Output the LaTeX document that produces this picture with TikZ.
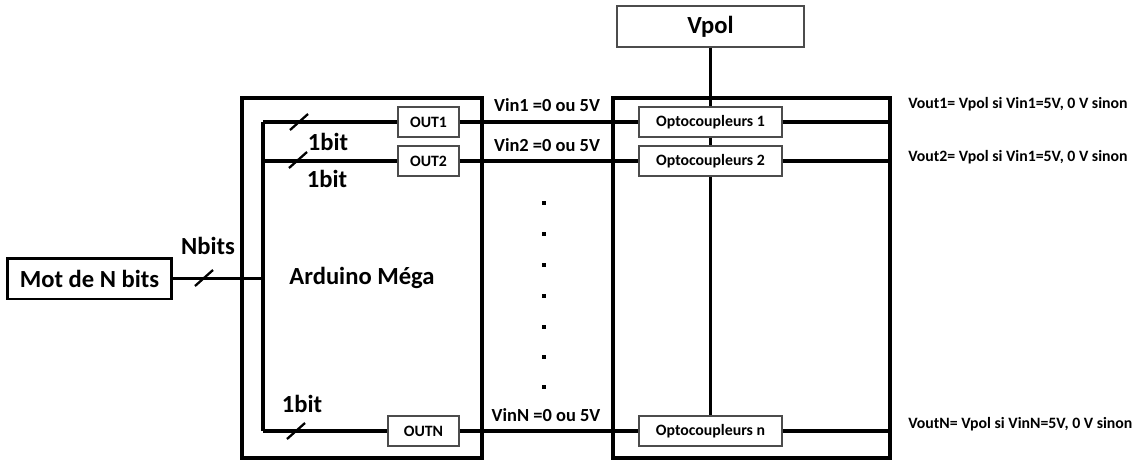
\documentclass[tikz,border=0pt]{standalone}
\usepackage{fontspec}
\setmainfont{Carlito}
\usetikzlibrary{positioning}

\begin{document}
\begin{tikzpicture}[x=0.02cm, y=-0.02cm, font=\bfseries,
  wire/.style={line width=2.2pt},
  bigbox/.style={draw, line width=1.7pt, inner sep=0pt, font=\fontsize{14}{16}\selectfont\bfseries},
  frame/.style={draw, line width=1.9pt, inner sep=0pt},
  small/.style={draw=gray!60!black, text=black, line width=0.7pt, fill=white, minimum height=0.6cm, inner sep=0pt, font=\fontsize{9}{10}\selectfont\bfseries},
  lab/.style={font=\fontsize{14}{16}\selectfont\bfseries, inner sep=0pt},
  vin/.style={font=\fontsize{10.5}{12}\selectfont\bfseries, inner sep=0pt},
  vout/.style={font=\fontsize{9}{10}\selectfont\bfseries, inner sep=0pt, anchor=west},
  slash/.style={line width=1.3pt},
  dot/.style={fill, inner sep=0pt, minimum size=0.07cm}]
\useasboundingbox (0,0) rectangle (1146,460);
\node[bigbox, minimum width=3.3cm, minimum height=0.82cm] (mot) at (89.5,278.5) {Mot de N bits};
\node[frame, minimum width=4.8cm, minimum height=7.2cm, font=\fontsize{14}{16}\selectfont\bfseries] (ard) at (362,278) {Arduino Méga};
\node[frame, minimum width=5.54cm, minimum height=7.2cm] (opt) at (751.5,278) {};
\node[bigbox, draw=gray!60!black, line width=0.8pt, minimum width=3.74cm, minimum height=0.82cm] (vpol) at (710.5,26.5) {Vpol};
\node[small, minimum width=1.22cm] (out1) at (428.5,122) {OUT1};
\node[small, minimum width=1.22cm] (out2) at (428.5,161) {OUT2};
\node[small, minimum width=1.42cm] (outn) at (423.5,431) {OUTN};
\foreach \i/\y in {1/122, 2/161, n/431}
  \node[small, minimum width=2.86cm] (opt\i) at (710.5,\y) {Optocoupleurs \i};
% bus inside the Arduino
\coordinate (bt) at (263,122);
\coordinate (bb) at (263,431);
\draw[wire] (mot.east) -- (mot.east -| bt);
\draw[wire] (bt) -- (bb);
\draw[wire] (bt) -- (out1); \draw[wire] (bt |- out2) -- (out2); \draw[wire] (bb) -- (outn);
\draw[wire] (out1) -- (opt1); \draw[wire] (out2) -- (opt2); \draw[wire] (outn) -- (optn);
\draw[wire] (opt1) -- (opt1 -| opt.east); \draw[wire] (opt2) -- (opt2 -| opt.east); \draw[wire] (optn) -- (optn -| opt.east);
\draw[wire] (vpol) -- (opt1); \draw[wire] (opt1) -- (opt2); \draw[wire] (opt2) -- (optn);
\foreach \x/\y in {204/278, 299/122, 298/160, 296/431}
  \draw[slash] (\x,\y) ++(-9,8) -- ++(18,-16);
\node[lab] (nbits) at (208,246) {Nbits};
\node[lab] (bit1) at (328,142) {1bit};
\node[lab] (bit2) at (327,179) {1bit};
\node[lab] (bitn) at (302,404) {1bit};
\node[vin] (vin1) at (547,105) {Vin1 =0 ou 5V};
\node[vin] (vin2) at (547,145) {Vin2 =0 ou 5V};
\node[vin] (vinn) at (546,415) {VinN =0 ou 5V};
\foreach \y [count=\k] in {203,234,265,296,327,357,387}
  \node[dot] (dot\k) at (544,\y) {};
\node[vout] (vout1) at (908,104) {Vout1= Vpol si Vin1=5V, 0 V sinon};
\node[vout] (vout2) at (908,157) {Vout2= Vpol si Vin1=5V, 0 V sinon};
\node[vout] (voutn) at (908,424) {VoutN= Vpol si VinN=5V, 0 V sinon};
\end{tikzpicture}
\end{document}
